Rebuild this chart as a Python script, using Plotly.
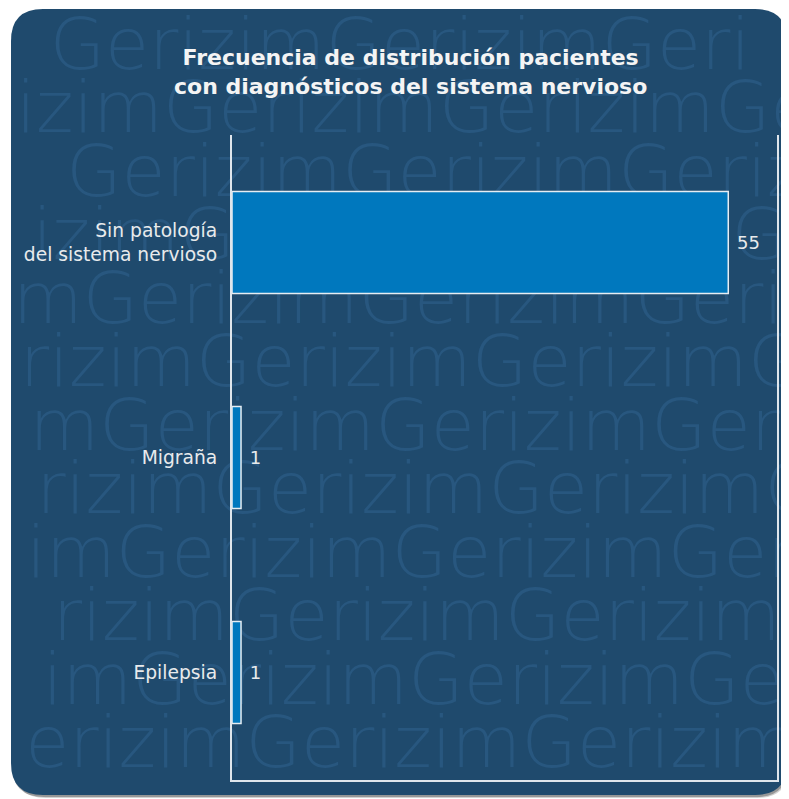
import plotly.graph_objects as go

# ---------------- data ----------------
categories = ["Sin patología del sistema nervioso", "Migraña", "Epilepsia"]
values = [55, 1, 1]
tick_labels = ["Sin patología<br>del sistema nervioso", "Migraña", "Epilepsia"]
title_lines = ["Frecuencia de distribución pacientes", "con diagnósticos del sistema nervioso"]
watermark_word = "Gerizim"

# ---------------- geometry (screen pixels -> figure) ----------------
OFF = 8                      # page body margin
W, H = 789 - OFF, 799 - OFF  # figure size


def fx(px):
    return px - OFF


def fy(py):
    return py - OFF


def PX(px):   # paper x
    return fx(px) / W


def PY(py):   # paper y
    return 1 - fy(py) / H


def rrect(x0, y0, x1, y1, r):
    return (f"M {PX(x0+r)},{PY(y0)} L {PX(x1-r)},{PY(y0)} Q {PX(x1)},{PY(y0)} {PX(x1)},{PY(y0+r)} "
            f"L {PX(x1)},{PY(y1-r)} Q {PX(x1)},{PY(y1)} {PX(x1-r)},{PY(y1)} "
            f"L {PX(x0+r)},{PY(y1)} Q {PX(x0)},{PY(y1)} {PX(x0)},{PY(y1-r)} "
            f"L {PX(x0)},{PY(y0+r)} Q {PX(x0)},{PY(y0)} {PX(x0+r)},{PY(y0)} Z")


BG = "#1f4a6d"
WM = "#28577f"
CARD = (11, 9, 787, 795, 32)
PLOT = (232, 135, 777, 780)   # left, top, right, bottom (screen px)

# ---------------- watermark (text points) ----------------
WM_SIZE = 71.5
EM = {"G": 0.779, "e": 0.615, "r": 0.411, "i": 0.278, "z": 0.525, "m": 0.974}
PERIOD = 276
wx, wy, wt, wp = [], [], [], []
widths = [EM[c] * WM_SIZE for c in watermark_word]
for k in range(12):
    base = 67 + 63.5 * k
    g = 41 + 0.13 * base + (105 if k % 2 else 0)
    lim_l = 25 if k == 0 else 12
    lim_r = 774 if k == 0 else 800
    ycen = base - 0.35 * WM_SIZE + 9
    avail = g - lim_l
    suf, acc = "", 0
    for c, w in zip(reversed(watermark_word), reversed(widths)):
        if acc + w <= avail + 2:
            acc += w
            suf = c + suf
        else:
            break
    if suf:
        wx.append(fx(g)); wy.append(fy(ycen)); wt.append(suf); wp.append("middle left")
    x0 = g
    while x0 < 789:
        word, acc = "", 0
        for c, w in zip(watermark_word, widths):
            if x0 + acc + w <= lim_r + 2 or lim_r >= 789:
                word += c
                acc += w
            else:
                break
        if word:
            wx.append(fx(x0)); wy.append(fy(ycen)); wt.append(word); wp.append("middle right")
        x0 += PERIOD

fig = go.Figure()

fig.add_trace(go.Scatter(
    x=wx, y=wy, text=wt, textposition=wp, mode="text",
    textfont=dict(family="DejaVu Sans", size=WM_SIZE, color=WM, weight=200),
    cliponaxis=False, hoverinfo="skip", showlegend=False,
    xaxis="x", yaxis="y",
))

fig.add_trace(go.Bar(
    y=categories, x=values, orientation="h",
    xaxis="x2", yaxis="y2",
    width=0.475,
    marker=dict(color="#0078be", line=dict(color="#e6edf3", width=1.5)),
    text=values, texttemplate="\u00a0%{x}", textposition="outside",
    textfont=dict(family="DejaVu Sans", size=18, color="#e8eaec"),
    cliponaxis=False, showlegend=False,
))

shapes = [
    dict(type="path", xref="paper", yref="paper", layer="below",
         path=rrect(CARD[0] + 3, CARD[1] + 4, CARD[2] + 2, CARD[3] + 3, CARD[4]),
         fillcolor="rgba(0,0,0,0.18)", line=dict(width=0)),
    dict(type="path", xref="paper", yref="paper", layer="below",
         path=rrect(CARD[0] + 1, CARD[1] + 2, CARD[2] + 1, CARD[3] + 2, CARD[4]),
         fillcolor="rgba(0,0,0,0.28)", line=dict(width=0)),
    dict(type="path", xref="paper", yref="paper", layer="below",
         path=rrect(*CARD), fillcolor=BG, line=dict(width=0)),
]

fig.update_layout(
    width=W, height=H,
    margin=dict(l=0, r=0, t=0, b=0, pad=0),
    paper_bgcolor="white",
    plot_bgcolor="rgba(0,0,0,0)",
    showlegend=False,
    shapes=shapes,
    xaxis=dict(domain=[0, 1], range=[0, W], visible=False, fixedrange=True),
    yaxis=dict(domain=[0, 1], range=[H, 0], visible=False, fixedrange=True),
    xaxis2=dict(domain=[PX(PLOT[0]), PX(PLOT[2])], anchor="y2", range=[0, 60.4],
                showgrid=False, zeroline=False, showticklabels=False, ticks="",
                showline=True, linecolor="#dfe6ec", linewidth=2, automargin=False),
    yaxis2=dict(domain=[PY(PLOT[3]), PY(PLOT[1])], anchor="x2", type="category",
                categoryorder="array", categoryarray=categories,
                tickvals=categories, ticktext=tick_labels,
                range=[2.5, -0.5],
                showgrid=False, zeroline=False, ticks="",
                ticklabelstandoff=9, automargin=False,
                tickfont=dict(family="DejaVu Sans", size=18.7, color="#e8eaec"),
                showline=True, mirror=True, linecolor="#dfe6ec", linewidth=2),
    annotations=[dict(
        xref="paper", yref="paper", x=PX(410), y=PY(72),
        xanchor="center", yanchor="middle", showarrow=False, align="center",
        text="<br>".join(title_lines),
        font=dict(family="DejaVu Sans", size=22, color="#f4f4f4", weight="bold"),
    )],
)

fig.write_html("out.html")
